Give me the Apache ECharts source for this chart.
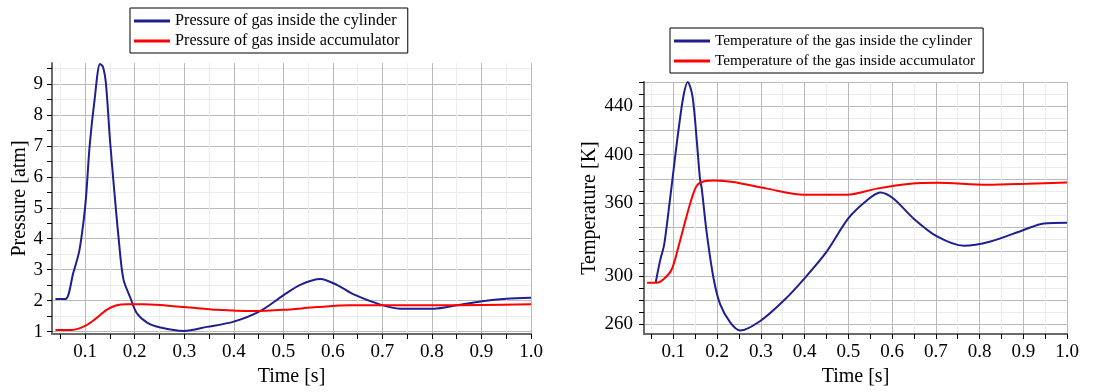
<!DOCTYPE html>
<html>
<head>
<meta charset="utf-8">
<script src="https://cdn.jsdelivr.net/npm/echarts@6/dist/echarts.min.js"></script>
<style>
html,body{margin:0;padding:0;background:#fff;}
#c{width:1119px;height:392px;}
</style>
</head>
<body>
<div id="c"></div>
<script>
// ---- Data ----
var tPresCyl = [0.04,0.06,0.076,0.088,0.097,0.102,0.109,0.119,0.130,0.136,0.142,0.150,0.159,0.167,0.177,0.191,0.204,0.225,0.252,0.299,0.346,0.400,0.453,0.500,0.534,0.575,0.609,0.642,0.696,0.736,0.804,0.850,0.901,0.950,1.0];
var presCyl  = [2.05,2.05,2.9,3.6,4.6,5.4,7.0,8.5,9.65,9.55,9.0,7.2,5.5,4.1,2.7,2.1,1.6,1.29,1.13,1.02,1.15,1.32,1.66,2.17,2.51,2.70,2.5,2.2,1.87,1.74,1.74,1.85,1.98,2.06,2.09];
var tPresAcc = [0.04,0.073,0.1,0.124,0.144,0.164,0.184,0.218,0.3,0.366,0.44,0.5,0.568,0.635,0.736,0.8,0.9,1.0];
var presAcc  = [1.05,1.05,1.18,1.45,1.71,1.85,1.88,1.88,1.79,1.70,1.66,1.70,1.79,1.85,1.85,1.85,1.86,1.88];

var tTempCyl = [0.060,0.070,0.079,0.089,0.100,0.111,0.123,0.133,0.144,0.154,0.161,0.165,0.176,0.192,0.207,0.230,0.253,0.298,0.352,0.401,0.451,0.500,0.543,0.573,0.603,0.649,0.703,0.764,0.825,0.901,0.947,1.0];
var tempCyl  = [294.9,313,325.6,353,385.7,418,448,460,448,410,380,372,336.5,298,276.6,261.6,254.8,262.5,279.4,298.4,320.2,347.4,362.4,368.7,363.8,347.4,332.5,324.8,328.4,337.9,343.3,343.9];
var tTempAcc = [0.04,0.062,0.077,0.096,0.111,0.127,0.142,0.154,0.169,0.195,0.237,0.314,0.398,0.497,0.565,0.642,0.703,0.817,0.909,1.0];
var tempAcc  = [294.3,294.3,297,305,323,344.7,363.8,374.6,377.9,378.7,377.4,372,367,367,372,376,376.8,375.2,376,377.1];

// tick / label values
var timeTicks  = [0.05,0.1,0.15,0.2,0.25,0.3,0.35,0.4,0.45,0.5,0.55,0.6,0.65,0.7,0.75,0.8,0.85,0.9,0.95,1.0];
var timeLabels = [0.1,0.2,0.3,0.4,0.5,0.6,0.7,0.8,0.9,1.0];
var presTicks  = [1,1.5,2,2.5,3,3.5,4,4.5,5,5.5,6,6.5,7,7.5,8,8.5,9,9.5];
var presLabels = [1,2,3,4,5,6,7,8,9];
var tempTicks  = [260,270,280,290,300,310,320,330,340,350,360,370,380,390,400,410,420,430,440,450,460];
var tempLabels = [260,300,360,400,440];

var names = {
  pc: 'Pressure of gas inside the cylinder',
  pa: 'Pressure of gas inside accumulator',
  tc: 'Temperature of the gas inside the cylinder',
  ta: 'Temperature of the gas inside accumulator'
};

function zip(a,b){ return a.map(function(v,i){ return [v,b[i]]; }); }

var FONT = '"Liberation Serif", "Times New Roman", serif';
var MAJ = '#b9b9b9', MIN = '#ececec';

function xAxisCfg(grid){
  return {
    type:'value', gridIndex:grid, min:0.033, max:1.0,
    name:'Time [s]', nameLocation:'middle', nameGap:33,
    nameTextStyle:{fontFamily:FONT, fontSize:20, color:'#000'},
    axisLine:{show:true, lineStyle:{color:'#6a6a6a', width:2}},
    axisTick:{show:true, customValues:timeTicks, length:5, lineStyle:{color:'#000', width:1}},
    axisLabel:{customValues:timeLabels, fontFamily:FONT, fontSize:19, color:'#000', margin:9,
      formatter:function(v){ return v.toFixed(1); }},
    splitLine:{show:true, lineStyle:{color:[MIN,MAJ], width:1}}
  };
}

function legendCfg(data, left, top, fs){
  return {
    data:data, orient:'vertical', left:left, top:top,
    backgroundColor:'#fff', borderColor:'#000', borderWidth:1, borderRadius:0,
    padding:[4,8,3,4], itemGap:2, itemWidth:36, itemHeight:3, icon:'rect',
    textStyle:{fontFamily:FONT, fontSize:fs, color:'#000', lineHeight:18}
  };
}

function lineSeries(name, xi, x, y, color){
  return {name:name, type:'line', xAxisIndex:xi, yAxisIndex:xi, data:zip(x,y),
    smooth:0.3, showSymbol:false,
    lineStyle:{color:color, width:2}, itemStyle:{color:color}};
}

var option = {
  animation:false,
  backgroundColor:'#fff',
  grid:[
    {left:52, right:588, top:63, bottom:55},
    {left:644, right:52, top:82, bottom:55}
  ],
  legend:[
    legendCfg([names.pc, names.pa], 130, 8, 16.2),
    legendCfg([names.tc, names.ta], 670, 28, 15.3)
  ],
  xAxis:[ xAxisCfg(0), xAxisCfg(1) ],
  yAxis:[
    {
      type:'value', gridIndex:0, min:0.92, max:9.68,
      name:'Pressure [atm]', nameLocation:'middle', nameGap:22,
      nameTextStyle:{fontFamily:FONT, fontSize:20, color:'#000'},
      axisLine:{show:true, lineStyle:{color:'#6a6a6a', width:2}},
      axisTick:{show:true, customValues:presTicks, length:5, lineStyle:{color:'#000', width:1}},
      axisLabel:{customValues:presLabels, fontFamily:FONT, fontSize:19, color:'#000', margin:9},
      splitLine:{show:true, lineStyle:{color:[MAJ,MIN], width:1}}
    },
    {
      type:'value', gridIndex:1, min:252, max:460,
      name:'Temperature [K]', nameLocation:'middle', nameGap:44,
      nameTextStyle:{fontFamily:FONT, fontSize:20, color:'#000'},
      axisLine:{show:true, lineStyle:{color:'#6a6a6a', width:2}},
      axisTick:{show:true, customValues:tempTicks, length:5, lineStyle:{color:'#000', width:1}},
      axisLabel:{customValues:tempLabels, fontFamily:FONT, fontSize:19, color:'#000', margin:11},
      splitLine:{show:true, lineStyle:{color:[MAJ,MIN], width:1}}
    }
  ],
  series:[
    lineSeries(names.pc, 0, tPresCyl, presCyl, '#1f1f8f'),
    lineSeries(names.pa, 0, tPresAcc, presAcc, '#ff0000'),
    lineSeries(names.tc, 1, tTempCyl, tempCyl, '#1f1f8f'),
    lineSeries(names.ta, 1, tTempAcc, tempAcc, '#ff0000')
  ]
};

var chart = echarts.init(document.getElementById('c'), null, {renderer:'canvas'});
chart.setOption(option);
</script>
</body>
</html>
